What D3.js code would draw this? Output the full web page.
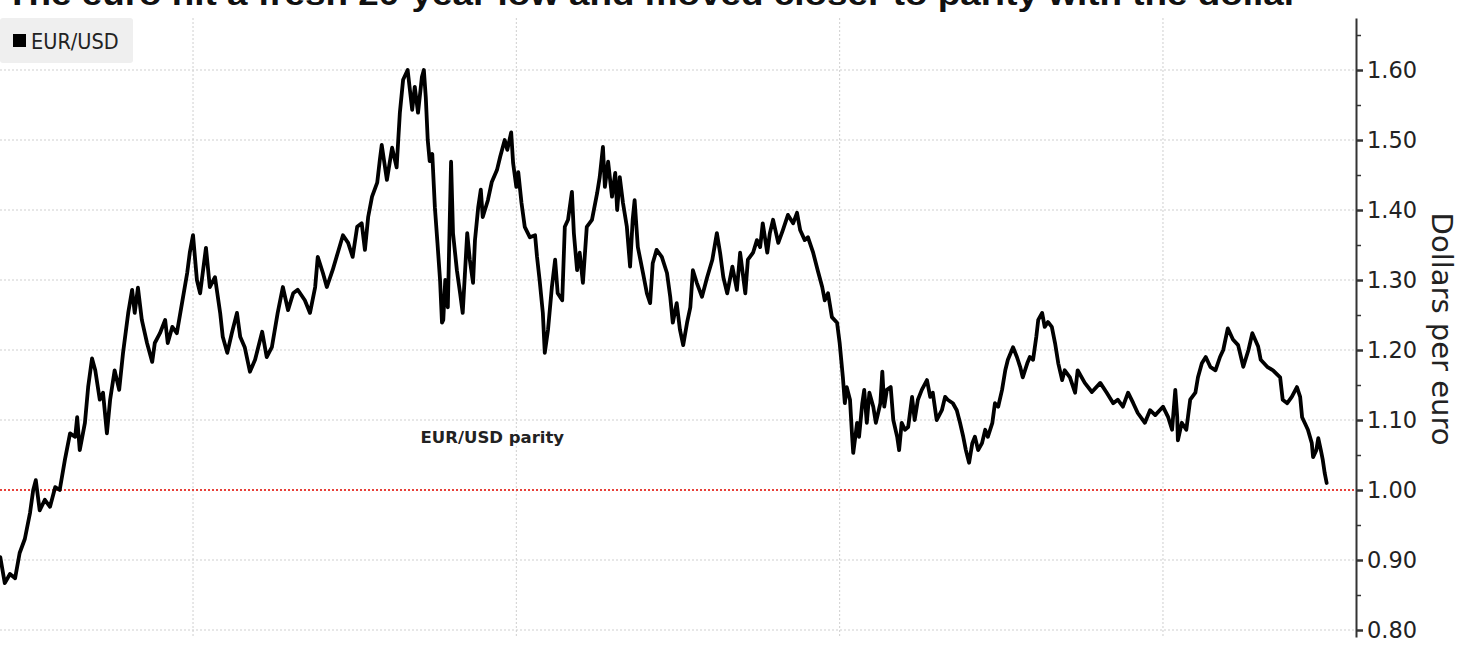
<!DOCTYPE html>
<html>
<head>
<meta charset="utf-8">
<script src="https://cdn.jsdelivr.net/npm/d3@7"></script>
<style>
  html, body { margin: 0; padding: 0; background: #fff; }
  svg { display: block; }
</style>
</head>
<body>
<svg id="chart" width="1460" height="657"></svg>
<script>
// ---------------- DATA ----------------
const titleText = "The euro hit a fresh 20-year low and moved closer to parity with the dollar";
const seriesName = "EUR/USD";
const axisTitle = "Dollars per euro";
const parityLabel = "EUR/USD parity";
const parityValue = 1.00;

const yTicks = [0.80, 0.90, 1.00, 1.10, 1.20, 1.30, 1.40, 1.50, 1.60];
const yMinorTicks = [0.85, 0.95, 1.05, 1.15, 1.25, 1.35, 1.45, 1.55, 1.65];
const xGridYears = [2005, 2010, 2015, 2020];

// decimal-year dates
const years = [
2002.02,2002.09,2002.17,2002.25,2002.32,2002.40,2002.48,2002.53,2002.57,2002.63,2002.71,2002.79,2002.87,2002.94,
2003.02,2003.10,2003.18,2003.21,2003.25,2003.33,2003.38,2003.44,2003.49,2003.56,2003.61,2003.67,2003.72,2003.79,2003.86,2003.92,
2004.00,2004.06,2004.10,2004.15,2004.21,2004.29,2004.37,2004.41,2004.49,2004.57,2004.61,2004.68,2004.75,2004.83,2004.91,2004.95,
2005.00,2005.06,2005.11,2005.20,2005.26,2005.34,2005.42,2005.46,2005.53,2005.60,2005.68,2005.73,2005.80,2005.88,2005.96,
2006.07,2006.14,2006.22,2006.31,2006.39,2006.47,2006.55,2006.62,2006.73,2006.81,2006.89,2006.93,
2007.01,2007.07,2007.16,2007.24,2007.32,2007.40,2007.47,2007.54,2007.61,2007.66,2007.71,2007.77,2007.85,2007.89,2007.92,
2008.00,2008.08,2008.15,2008.20,2008.25,2008.32,2008.39,2008.43,2008.48,2008.54,2008.57,2008.60,2008.63,2008.66,2008.70,
2008.74,2008.78,2008.82,2008.85,2008.87,2008.90,2008.93,2008.94,2008.99,
2009.02,2009.08,2009.13,2009.17,2009.24,2009.28,2009.33,2009.36,2009.41,2009.45,2009.48,2009.56,2009.62,2009.70,2009.75,
2009.82,2009.86,2009.92,2009.95,
2010.00,2010.03,2010.08,2010.13,2010.21,2010.29,2010.32,2010.36,2010.41,2010.44,2010.49,2010.55,2010.60,2010.64,2010.71,
2010.75,2010.80,2010.86,2010.89,2010.94,2010.98,
2011.03,2011.09,2011.17,2011.25,2011.29,2011.34,2011.37,2011.42,2011.48,2011.53,2011.56,2011.60,2011.65,2011.71,2011.76,
2011.80,2011.83,2011.88,2011.96,
2012.02,2012.07,2012.11,2012.17,2012.25,2012.33,2012.38,2012.42,2012.48,2012.53,2012.58,2012.64,2012.69,2012.73,2012.79,
2012.87,2012.95,
2013.03,2013.10,2013.15,2013.20,2013.26,2013.34,2013.41,2013.46,2013.54,2013.58,2013.66,2013.72,2013.77,2013.81,2013.88,
2013.92,2013.97,
2014.05,2014.12,2014.20,2014.28,2014.34,2014.39,2014.46,2014.51,2014.59,2014.66,2014.73,2014.77,2014.82,2014.88,2014.96,
2015.00,2015.05,2015.08,2015.11,2015.16,2015.19,2015.21,2015.27,2015.30,2015.35,2015.38,2015.42,2015.46,2015.52,2015.56,
2015.63,2015.66,2015.69,2015.73,2015.79,2015.83,2015.89,2015.92,2015.96,
2016.01,2016.06,2016.12,2016.16,2016.21,2016.27,2016.35,2016.40,2016.44,2016.50,2016.58,2016.63,2016.67,2016.75,2016.81,
2016.86,2016.91,2016.95,
2017.00,2017.05,2017.09,2017.14,2017.20,2017.25,2017.29,2017.36,2017.40,2017.45,2017.51,2017.56,2017.60,2017.68,2017.74,
2017.79,2017.83,2017.90,2017.94,2017.99,
2018.04,2018.07,2018.13,2018.17,2018.22,2018.28,2018.33,2018.38,2018.44,2018.48,2018.56,2018.64,2018.68,2018.79,2018.90,
2019.03,2019.13,2019.23,2019.30,2019.38,2019.46,2019.54,2019.61,2019.72,2019.80,2019.88,2019.95,
2020.00,2020.08,2020.14,2020.19,2020.22,2020.23,2020.29,2020.36,2020.42,2020.50,2020.54,2020.60,2020.66,2020.73,2020.81,
2020.88,2020.93,
2021.00,2021.08,2021.16,2021.24,2021.32,2021.38,2021.47,2021.51,2021.61,2021.70,2021.81,2021.85,2021.92,2021.99,
2022.07,2022.12,2022.15,2022.19,2022.24,2022.30,2022.32,2022.37,2022.40,2022.44,2022.47,2022.50,2022.53
];

const rates = [
0.904,0.867,0.880,0.874,0.910,0.930,0.967,1.000,1.014,0.971,0.986,0.976,1.004,1.000,
1.043,1.081,1.076,1.104,1.057,1.096,1.147,1.188,1.171,1.129,1.139,1.081,1.129,1.171,1.143,1.196,
1.253,1.286,1.253,1.289,1.243,1.210,1.183,1.210,1.224,1.243,1.210,1.233,1.224,1.267,1.310,1.339,
1.364,1.300,1.281,1.346,1.290,1.304,1.253,1.219,1.196,1.224,1.253,1.219,1.204,1.169,1.186,
1.226,1.190,1.204,1.253,1.290,1.257,1.281,1.286,1.271,1.253,1.290,1.333,
1.310,1.290,1.314,1.339,1.364,1.353,1.333,1.376,1.381,1.343,1.390,1.419,1.439,1.471,1.493,
1.443,1.489,1.461,1.539,1.586,1.600,1.543,1.576,1.539,1.590,1.600,1.561,1.500,1.470,1.480,
1.404,1.353,1.300,1.239,1.243,1.300,1.271,1.261,1.469,
1.367,1.314,1.281,1.253,1.367,1.329,1.296,1.357,1.404,1.429,1.390,1.414,1.440,1.457,1.476,
1.500,1.486,1.511,1.467,
1.433,1.454,1.410,1.376,1.361,1.364,1.333,1.300,1.253,1.196,1.229,1.290,1.329,1.281,1.271,
1.376,1.386,1.426,1.367,1.314,1.339,
1.296,1.376,1.386,1.424,1.447,1.490,1.433,1.469,1.419,1.453,1.400,1.447,1.410,1.376,1.319,
1.386,1.414,1.347,1.310,
1.281,1.267,1.324,1.343,1.333,1.310,1.276,1.239,1.267,1.229,1.207,1.239,1.261,1.314,1.296,
1.276,1.304,
1.329,1.367,1.339,1.304,1.281,1.319,1.286,1.339,1.281,1.329,1.339,1.357,1.347,1.381,1.339,
1.367,1.386,
1.353,1.371,1.393,1.381,1.396,1.371,1.357,1.361,1.339,1.314,1.290,1.271,1.281,1.247,1.239,
1.210,1.161,1.124,1.147,1.129,1.081,1.053,1.096,1.076,1.124,1.143,1.096,1.139,1.119,1.096,
1.124,1.169,1.119,1.143,1.147,1.100,1.076,1.057,1.096,
1.086,1.090,1.133,1.100,1.129,1.143,1.157,1.133,1.139,1.100,1.114,1.133,1.129,1.124,1.114,
1.096,1.076,1.057,
1.039,1.067,1.076,1.057,1.067,1.086,1.076,1.096,1.124,1.119,1.143,1.171,1.186,1.204,1.190,
1.176,1.161,1.181,1.190,1.186,
1.219,1.243,1.253,1.233,1.240,1.233,1.210,1.181,1.157,1.171,1.161,1.139,1.171,1.153,1.140,
1.153,1.139,1.124,1.129,1.119,1.139,1.124,1.110,1.096,1.114,1.107,1.114,
1.119,1.104,1.086,1.143,1.104,1.071,1.096,1.086,1.129,1.139,1.161,1.181,1.190,1.176,1.171,
1.190,1.200,
1.231,1.215,1.207,1.176,1.200,1.224,1.205,1.186,1.176,1.171,1.161,1.129,1.124,1.133,
1.147,1.133,1.104,1.096,1.086,1.067,1.047,1.057,1.074,1.057,1.043,1.024,1.010
];

// ---------------- CHART ----------------
function decToDate(t) {
  const y = Math.floor(t);
  const s = Date.UTC(y, 0, 1), e = Date.UTC(y + 1, 0, 1);
  return new Date(s + (t - y) * (e - s));
}

const data = years.map((t, i) => ({ date: decToDate(t), value: rates[i] }));

const svg = d3.select("#chart");
const plot = { left: 0, right: 1356, top: 18, bottom: 637 };

const x = d3.scaleUtc()
  .domain([decToDate(2002.016), decToDate(2022.984)])
  .range([plot.left, plot.right]);

const y = d3.scaleLinear()
  .domain([0.79, 1.6743])
  .range([plot.bottom, plot.top]);

// title (partly cut off at top, as in the reference)
svg.append("text")
  .attr("x", 6).attr("y", 5)
  .attr("font-family", "Liberation Sans, Arial, sans-serif")
  .attr("font-weight", "bold")
  .attr("font-size", 31)
  .attr("fill", "#111")
  .attr("textLength", 1292)
  .attr("lengthAdjust", "spacingAndGlyphs")
  .text(titleText);

// horizontal grid
svg.append("g").selectAll("line")
  .data(yTicks.filter(d => d !== parityValue))
  .join("line")
  .attr("x1", plot.left).attr("x2", plot.right)
  .attr("y1", d => y(d)).attr("y2", d => y(d))
  .attr("stroke", "#cfcfcf").attr("stroke-width", 1)
  .attr("stroke-dasharray", "2,2");

// vertical grid
svg.append("g").selectAll("line")
  .data(xGridYears)
  .join("line")
  .attr("x1", d => x(decToDate(d))).attr("x2", d => x(decToDate(d)))
  .attr("y1", plot.top).attr("y2", plot.bottom)
  .attr("stroke", "#cfcfcf").attr("stroke-width", 1)
  .attr("stroke-dasharray", "2,2");

// parity line
svg.append("line")
  .attr("x1", plot.left).attr("x2", plot.right)
  .attr("y1", y(parityValue)).attr("y2", y(parityValue))
  .attr("stroke", "#e8413a").attr("stroke-width", 2)
  .attr("stroke-dasharray", "2,2");

svg.append("text")
  .attr("x", x(decToDate(2008.52))).attr("y", y(1.067))
  .attr("font-family", "DejaVu Sans, sans-serif")
  .attr("font-weight", "bold")
  .attr("font-size", 16.5)
  .attr("fill", "#222")
  .text(parityLabel);

// series line
const line = d3.line()
  .x(d => x(d.date))
  .y(d => y(d.value));

svg.append("path")
  .datum(data)
  .attr("d", line)
  .attr("fill", "none")
  .attr("stroke", "#000")
  .attr("stroke-width", 3.8)
  .attr("stroke-linejoin", "round")
  .attr("stroke-linecap", "round");

// right axis
const axis = d3.axisRight(y)
  .tickValues(yTicks)
  .tickFormat(d3.format(".2f"))
  .tickSizeInner(7)
  .tickSizeOuter(0)
  .tickPadding(4);

const gAxis = svg.append("g")
  .attr("transform", `translate(${plot.right},0)`)
  .call(axis);
gAxis.select(".domain").attr("stroke", "#333").attr("stroke-width", 2);
gAxis.selectAll(".tick line").attr("stroke", "#333").attr("stroke-width", 2.5);
gAxis.selectAll(".tick text")
  .attr("font-family", "DejaVu Sans, sans-serif")
  .attr("font-size", 22.5)
  .attr("fill", "#222");

const minor = d3.axisRight(y)
  .tickValues(yMinorTicks)
  .tickFormat("")
  .tickSizeInner(5)
  .tickSizeOuter(0);
const gMinor = svg.append("g")
  .attr("transform", `translate(${plot.right},0)`)
  .call(minor);
gMinor.select(".domain").remove();
gMinor.selectAll(".tick line").attr("stroke", "#333").attr("stroke-width", 1.5);

// axis title
svg.append("text")
  .attr("transform", `translate(1432, ${y(1.23)}) rotate(90)`)
  .attr("text-anchor", "middle")
  .attr("font-family", "DejaVu Sans, sans-serif")
  .attr("font-size", 29)
  .attr("fill", "#222")
  .text(axisTitle);

// legend
const lg = svg.append("g");
lg.append("rect")
  .attr("x", 0).attr("y", 18).attr("width", 133).attr("height", 45)
  .attr("rx", 3)
  .attr("fill", "#efefef");
lg.append("rect")
  .attr("x", 13).attr("y", 34).attr("width", 13).attr("height", 13)
  .attr("fill", "#000");
lg.append("text")
  .attr("x", 31).attr("y", 49)
  .attr("font-family", "DejaVu Sans Condensed, DejaVu Sans, sans-serif")
  .attr("font-stretch", "condensed")
  .attr("font-size", 21.5)
  .attr("fill", "#222")
  .text(seriesName);
</script>
</body>
</html>
